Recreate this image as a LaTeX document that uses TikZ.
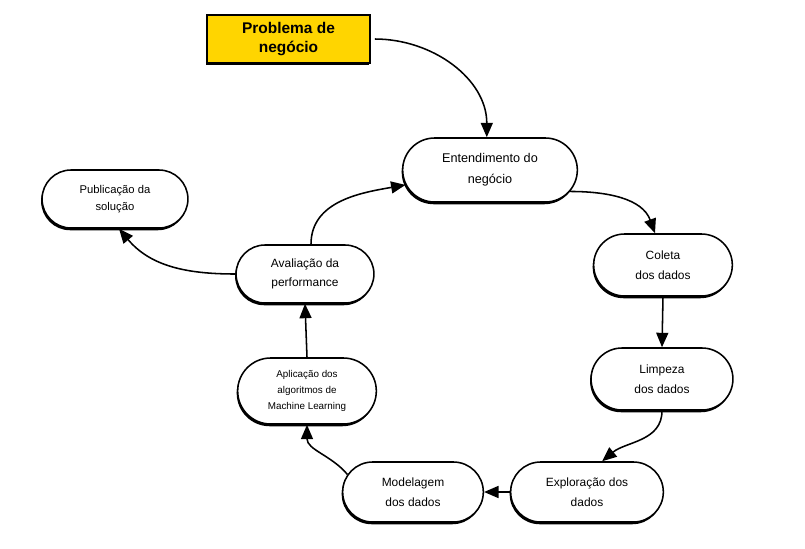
\documentclass[tikz,border=0pt]{standalone}
\usepackage{fontspec}
\setmainfont{Liberation Sans}
\usetikzlibrary{shapes.misc,shadows,arrows.meta}
\definecolor{amarelo}{HTML}{FFD500}
\begin{document}
\begin{tikzpicture}[x=0.025cm,y=0.025cm,
		sombra/.style={drop shadow={fill=black,opacity=1,shadow xshift=-0.7pt,shadow yshift=-1.6pt}},
		etapa/.style={rounded rectangle,draw,line width=1.1pt,fill=white,sombra,align=center,minimum height=1.55cm,font=\fontsize{8.5}{14}\selectfont},
		seta/.style={line width=1.1pt,-{Triangle[length=3.6mm,width=3mm]}}]
		\useasboundingbox (0,0) rectangle (805,-548);
		\node[draw,line width=1pt,fill=amarelo,sombra,minimum width=4.08cm,minimum height=1.2cm,align=center,font=\fontsize{11}{13}\selectfont\bfseries] (problema) at (288.5,-39) {Problema de\\negócio};
		\node[etapa,minimum width=4.6cm,minimum height=1.6cm,font=\fontsize{9}{15}\selectfont] (entendimento) at (490,-170) {Entendimento do\\negócio};
		\node[etapa,minimum width=3.7cm] (coleta) at (663,-265) {Coleta\\dos dados};
		\node[etapa,minimum width=3.78cm] (limpeza) at (662,-379) {Limpeza\\dos dados};
		\node[etapa,minimum width=4.05cm,minimum height=1.5cm] (exploracao) at (587,-492) {Exploração dos\\dados};
		\node[etapa,minimum width=3.75cm,minimum height=1.5cm] (modelagem) at (413,-492) {Modelagem\\dos dados};
		\node[etapa,minimum width=3.7cm,minimum height=1.65cm,font=\fontsize{7}{11.3}\selectfont] (aplicacao) at (307,-391) {Aplicação dos\\algoritmos de\\Machine Learning};
		\node[etapa,minimum width=3.68cm,minimum height=1.45cm] (avaliacao) at (305,-274) {Avaliação da\\performance};
		\node[etapa,minimum width=3.88cm,minimum height=1.45cm,font=\fontsize{8}{12}\selectfont] (publicacao) at (115,-199) {Publicação da\\solução};
		\draw[seta] ([xshift=0.1cm]problema.east) to[out=0,in=90] ([xshift=-0.08cm]entendimento.north);
		\draw[seta] (entendimento.-15) to[out=0,in=110] ([xshift=-0.2cm]coleta.north);
		\draw[seta] (coleta.south) -- (limpeza.north);
		\draw[seta] (limpeza.south) to[out=-90,in=40] ([xshift=0.38cm]exploracao.north);
		\draw[seta] (exploracao.west) -- (modelagem.east);
		\draw[seta] (modelagem.165) to[out=130,in=-90] (aplicacao.south);
		\draw[seta] (aplicacao.north) -- (avaliacao.south);
		\draw[seta] ([xshift=0.15cm]avaliacao.north) to[out=90,in=190] (entendimento.190);
		\draw[seta] (avaliacao.west) to[out=180,in=-50] ([xshift=0.1cm]publicacao.south);
	\end{tikzpicture}
\end{document}
